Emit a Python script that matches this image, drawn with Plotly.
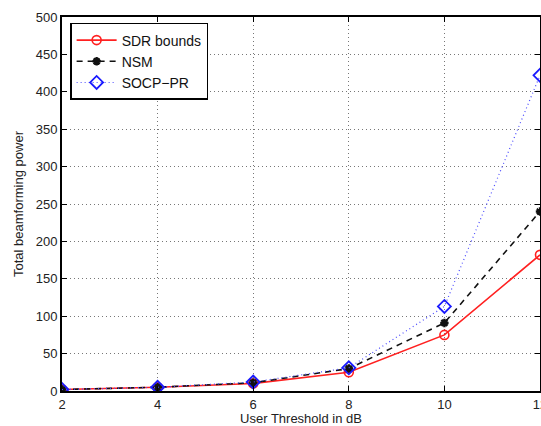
import plotly.graph_objects as go

thresholds = [2, 4, 6, 8, 10, 12]
sdr_bounds = [2, 5, 10, 25, 75, 182]
nsm = [2, 5, 11, 30, 91, 240]
socp_pr = [2, 5, 12, 31, 113, 422]

x_ticks = [2, 4, 6, 8, 10, 12]
y_ticks = list(range(0, 501, 50))

font = "Liberation Sans, Arial, sans-serif"

fig = go.Figure()
fig.add_trace(go.Scatter(
    x=thresholds, y=sdr_bounds, name="SDR bounds", mode="lines+markers",
    line=dict(color="#ff2020", width=1.6, dash="solid"),
    marker=dict(symbol="circle-open", size=9, color="#ff2020", line=dict(width=1.6)),
))
fig.add_trace(go.Scatter(
    x=thresholds, y=nsm, name="NSM", mode="lines+markers",
    line=dict(color="#111111", width=1.6, dash="6px,5px"),
    marker=dict(symbol="asterisk", size=7, color="#111111", line=dict(width=2.4, color="#111111")),
))
fig.add_trace(go.Scatter(
    x=thresholds, y=socp_pr, name="SOCP\u2212PR", mode="lines+markers",
    line=dict(color="#4a4aff", width=1.2, dash="1px,3px"),
    marker=dict(symbol="diamond-open", size=10, color="#1a1aff", line=dict(width=1.8)),
))

axis_common = dict(
    showline=True, linecolor="black", linewidth=2, mirror="ticks",
    ticks="inside", ticklen=5, tickcolor="black", tickwidth=1,
    showgrid=True, gridcolor="#777777", griddash="1px,3px", gridwidth=1,
    zeroline=False, automargin=False, ticklabeloverflow="allow",
    tickfont=dict(family=font, size=13, color="#222222"),
)

fig.update_layout(
    width=541, height=426,
    margin=dict(l=62, r=1, t=17, b=35),
    paper_bgcolor="white", plot_bgcolor="white",
    font=dict(family=font, size=13, color="#222222"),
    showlegend=True,
    legend=dict(
        x=0.017, y=0.984, xanchor="left", yanchor="top",
        bgcolor="white", bordercolor="black", borderwidth=1.5,
        font=dict(family=font, size=14, color="#111111"),
        tracegroupgap=0, itemwidth=40,
    ),
    xaxis=dict(
        range=[2, 12], tickvals=x_ticks, ticktext=[str(v) for v in x_ticks],
        title=dict(text="User Threshold in dB", font=dict(size=13), standoff=2),
        **axis_common,
    ),
    yaxis=dict(
        range=[0, 500], tickvals=y_ticks, ticktext=[str(v) for v in y_ticks],
        title=dict(text="Total beamforming power", font=dict(size=13), standoff=9),
        **axis_common,
    ),
)

fig.write_html(
    "out.html",
    config={"displayModeBar": False},
    post_script="document.body.style.margin='0px';document.body.style.overflow='hidden';",
)
